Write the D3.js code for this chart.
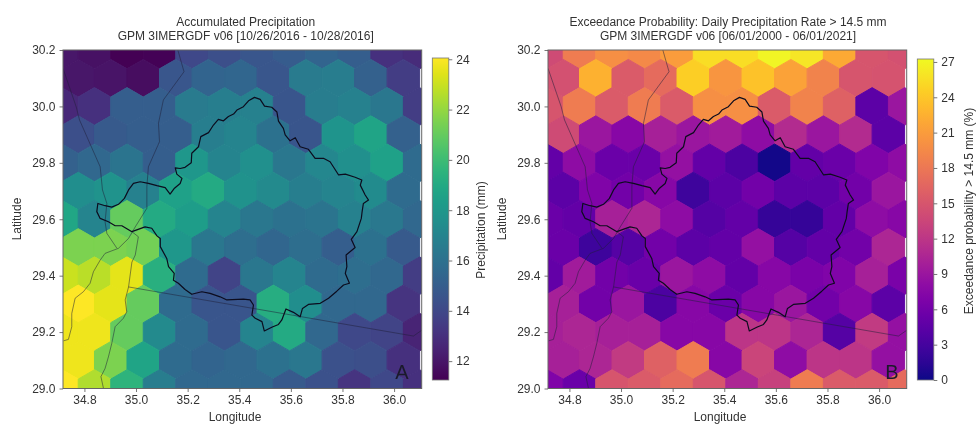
<!DOCTYPE html>
<html>
<head>
<meta charset="utf-8">
<script src="https://cdnjs.cloudflare.com/ajax/libs/d3/7.8.5/d3.min.js"></script>
<style>
  html, body { margin: 0; padding: 0; background: #fff; }
  svg { display: block; filter: blur(0.4px); }
  text { font-family: "Liberation Sans", Arial, sans-serif; fill: #333; }
  .tick line { stroke: #555; stroke-width: 0.8; }
  .tick text { font-size: 12px; fill: #333; }
  .frame { fill: none; stroke: #666; stroke-width: 1; }
  .border { fill: none; stroke: #20203a; stroke-width: 0.6; stroke-opacity: 0.85; }
  .basin { fill: none; stroke: #0c0c1e; stroke-width: 1.2; stroke-linejoin: round; }
</style>
</head>
<body>
<svg id="chart" width="976" height="424"></svg>
<script>
// Hex rows, north to south. Even rows (30.2, 30.0, ...) have 12 cells, the others 11.
var latRows = [30.2, 30.1, 30.0, 29.9, 29.8, 29.7, 29.6, 29.5, 29.4, 29.3, 29.2, 29.1, 29.0];
var lonStartEven = 34.713, lonStartOdd = 34.776, lonStep = 0.126;

// Accumulated precipitation (mm).
var precip = [
  [12.0, 11.8, 11.25, 11.3, 14.0, 14.3, 14.7, 14.9, 15.3, 15.0, 13.0, 12.8],
  [12.0, 11.9, 11.7, 14.7, 15.3, 15.4, 14.7, 16.5, 16.6, 15.2, 13.5],
  [12.7, 13.0, 15.0, 15.0, 16.5, 16.7, 16.8, 14.6, 16.6, 16.8, 16.3, 13.5],
  [14.3, 14.8, 15.0, 15.0, 16.7, 17.0, 16.0, 14.6, 17.9, 18.7, 15.2],
  [15.2, 15.5, 16.2, 15.0, 18.0, 17.0, 17.6, 16.3, 17.2, 17.6, 18.5, 15.7],
  [17.5, 17.8, 16.8, 18.5, 19.0, 17.7, 17.3, 16.7, 17.0, 17.4, 15.7],
  [18.8, 17.0, 21.0, 19.0, 18.3, 17.0, 16.3, 16.0, 16.2, 16.8, 16.4, 15.5],
  [21.5, 21.5, 21.3, 18.0, 16.3, 15.8, 15.4, 15.8, 15.0, 16.0, 14.8],
  [23.0, 22.7, 23.5, 19.3, 15.7, 13.8, 16.3, 17.0, 15.7, 15.8, 15.5, 13.5],
  [24.0, 23.5, 21.0, 15.7, 14.6, 14.6, 19.2, 17.5, 15.5, 15.5, 13.2],
  [23.7, 23.7, 21.0, 17.3, 15.7, 14.6, 17.0, 19.0, 15.5, 14.0, 13.8, 12.5],
  [23.7, 21.5, 18.7, 15.7, 15.3, 15.5, 16.0, 16.3, 14.4, 14.3, 13.0],
  [24.0, 22.5, 19.5, 16.6, 15.5, 15.5, 15.5, 14.8, 14.4, 13.2, 14.0, 13.0]
];

// Exceedance probability (%).
var exceed = [
  [14.0, 18.5, 20.0, 19.5, 21.0, 25.5, 25.5, 27.0, 26.0, 22.0, 15.0, 14.5],
  [14.5, 22.5, 15.5, 17.0, 24.5, 20.5, 23.7, 21.5, 19.0, 15.0, 14.7],
  [15.0, 18.5, 15.5, 18.5, 15.5, 20.0, 20.0, 15.5, 19.0, 16.0, 4.5, 9.0],
  [14.0, 9.0, 7.5, 10.0, 9.0, 9.5, 8.0, 11.0, 9.0, 11.0, 4.5],
  [5.0, 8.0, 5.5, 5.5, 8.5, 5.0, 3.5, 0.3, 5.0, 5.5, 7.0, 8.0],
  [4.5, 7.0, 6.0, 7.5, 2.5, 4.5, 6.0, 4.5, 4.5, 6.0, 9.0],
  [5.5, 5.0, 10.0, 10.5, 8.0, 4.0, 5.0, 2.0, 2.0, 5.0, 8.0, 7.5],
  [5.5, 2.5, 4.0, 6.0, 4.5, 5.0, 8.5, 4.0, 5.0, 6.0, 10.5],
  [5.0, 9.5, 6.0, 5.5, 9.0, 8.0, 5.0, 7.5, 6.5, 7.0, 10.0, 6.5],
  [10.0, 6.0, 9.0, 3.5, 7.5, 5.5, 7.5, 9.0, 6.0, 7.5, 4.5],
  [10.0, 10.5, 10.0, 10.0, 7.5, 7.5, 12.0, 12.0, 10.5, 4.0, 12.5, 8.5],
  [10.0, 10.5, 12.5, 16.0, 18.5, 7.5, 13.5, 8.0, 12.0, 12.0, 8.5],
  [7.0, 5.5, 15.0, 15.5, 17.0, 15.0, 10.5, 13.0, 18.5, 15.5, 15.5, 17.0]
];

// Wadi basin outline, [lon, lat].
var basin = [
  [34.852,29.656],[34.880,29.648],[34.906,29.643],[34.932,29.653],[34.955,29.674],[34.971,29.704],
  [34.990,29.727],[35.016,29.733],[35.048,29.727],[35.081,29.719],[35.113,29.712],[35.132,29.689],
  [35.149,29.710],[35.171,29.727],[35.178,29.745],[35.158,29.760],[35.152,29.782],[35.171,29.780],
  [35.190,29.784],[35.214,29.800],[35.216,29.834],[35.242,29.857],[35.251,29.893],[35.281,29.907],
  [35.300,29.934],[35.319,29.954],[35.339,29.949],[35.358,29.964],[35.378,29.973],[35.391,29.987],
  [35.416,29.999],[35.436,30.020],[35.459,30.032],[35.481,30.025],[35.498,30.001],[35.526,29.997],
  [35.546,29.980],[35.552,29.948],[35.571,29.922],[35.578,29.899],[35.597,29.878],[35.617,29.889],
  [35.636,29.857],[35.668,29.848],[35.694,29.816],[35.726,29.816],[35.752,29.804],[35.785,29.757],
  [35.811,29.760],[35.849,29.749],[35.875,29.739],[35.869,29.721],[35.888,29.686],[35.901,29.668],
  [35.881,29.656],[35.876,29.626],[35.873,29.603],[35.856,29.556],[35.834,29.529],[35.849,29.500],
  [35.814,29.473],[35.817,29.432],[35.811,29.408],[35.827,29.373],[35.804,29.367],[35.778,29.345],
  [35.746,29.320],[35.714,29.302],[35.668,29.298],[35.645,29.284],[35.636,29.254],[35.610,29.270],
  [35.581,29.282],[35.565,29.243],[35.552,29.227],[35.526,29.217],[35.497,29.204],[35.488,29.237],
  [35.462,29.249],[35.449,29.260],[35.455,29.296],[35.442,29.314],[35.416,29.317],[35.352,29.314],
  [35.326,29.325],[35.287,29.337],[35.255,29.343],[35.216,29.334],[35.190,29.351],[35.164,29.373],
  [35.145,29.384],[35.148,29.408],[35.126,29.432],[35.119,29.461],[35.094,29.503],[35.094,29.532],
  [35.081,29.541],[35.061,29.568],[35.035,29.573],[34.984,29.556],[34.945,29.577],[34.919,29.577],
  [34.893,29.591],[34.861,29.603],[34.848,29.627],[34.852,29.656]
];

// Country borders, [lon, lat].
var borderWest = [
  [34.717,30.135],[34.768,29.999],[34.781,29.952],[34.861,29.786],[34.870,29.704],[34.887,29.656],
  [34.880,29.591],[34.887,29.550],[34.926,29.497]
];
var borderNorth = [
  [35.162,30.200],[35.186,30.123],[35.106,30.023],[35.087,29.940],[35.091,29.875],[35.048,29.786],
  [35.042,29.715],[35.042,29.639],[34.997,29.573],[34.971,29.532],[34.932,29.497],[34.880,29.479],
  [34.861,29.455],[34.835,29.414],[34.822,29.373],[34.796,29.343],[34.764,29.320],[34.751,29.266],
  [34.751,29.219],[34.738,29.174],[34.719,29.169]
];
var borderSouth = [
  [34.984,29.556],[35.009,29.538],[34.997,29.473],[34.984,29.448],[34.971,29.360],[34.958,29.314],
  [34.964,29.272],[34.951,29.249],[34.919,29.219],[34.906,29.160],[34.893,29.112],[34.880,29.071],
  [34.864,29.042],[34.874,29.000]
];
var borderEast = [[34.971,29.360],[36.075,29.186],[36.108,29.207]];

var lonTicks = [34.8, 35.0, 35.2, 35.4, 35.6, 35.8, 36.0];
var latTicks = [29.0, 29.2, 29.4, 29.6, 29.8, 30.0, 30.2];
var precipTicks = [12, 14, 16, 18, 20, 22, 24];
var exceedTicks = [0, 3, 6, 9, 12, 15, 18, 21, 24, 27];

var svg = d3.select("#chart");

function panel(opt) {
  var x = d3.scaleLinear().domain([34.717, 36.107]).range([opt.left, opt.left + 358.7]);
  var y = d3.scaleLinear().domain([29.0, 30.2]).range([388.5, 50]);
  var color = d3.scaleSequential(opt.interp).domain(opt.domain);
  var line = d3.line().x(function(d) { return x(d[0]); }).y(function(d) { return y(d[1]); });

  svg.append("clipPath").attr("id", "clip" + opt.id)
    .append("rect")
      .attr("x", opt.left).attr("y", 50)
      .attr("width", 358.7).attr("height", 338.5);

  var plot = svg.append("g").attr("clip-path", "url(#clip" + opt.id + ")");

  // Hex cells
  var halfH = 0.1 / 1.5;
  opt.values.forEach(function(row, r) {
    var lat = latRows[r];
    var start = row.length == 12 ? lonStartEven : lonStartOdd;
    plot.selectAll(".row" + r)
        .data(row)
      .enter().append("path")
        .attr("class", "row" + r)
        .attr("d", function(d, i) {
          var lon = start + i * lonStep;
          return line([
            [lon, lat + halfH], [lon + lonStep / 2, lat + halfH / 2], [lon + lonStep / 2, lat - halfH / 2],
            [lon, lat - halfH], [lon - lonStep / 2, lat - halfH / 2], [lon - lonStep / 2, lat + halfH / 2]
          ]) + "Z";
        })
        .style("fill", function(d) { return color(d); })
        .style("stroke", function(d) { return color(d); })
        .style("stroke-width", 1);
  });

  [borderWest, borderNorth, borderSouth, borderEast].forEach(function(b) {
    plot.append("path").attr("class", "border").attr("d", line(b));
  });
  plot.append("path").attr("class", "basin").attr("d", line(basin) + "Z");

  svg.append("rect").attr("class", "frame")
    .attr("x", opt.left).attr("y", 50)
    .attr("width", 358.7).attr("height", 338.5);

  // Axes
  var xAxis = svg.append("g").attr("transform", "translate(0,388.5)")
    .call(d3.axisBottom(x).tickValues(lonTicks).tickSize(3.5).tickPadding(3).tickFormat(d3.format(".1f")));
  var yAxis = svg.append("g").attr("transform", "translate(" + opt.left + ",0)")
    .call(d3.axisLeft(y).tickValues(latTicks).tickSize(3.5).tickPadding(4).tickFormat(d3.format(".1f")));
  xAxis.select(".domain").remove();
  yAxis.select(".domain").remove();

  svg.append("text")
    .attr("x", opt.left + 172).attr("y", 421)
    .attr("text-anchor", "middle").style("font-size", "12px")
    .text("Longitude");
  svg.append("text")
    .attr("transform", "translate(" + (opt.left - 42) + ",219)rotate(-90)")
    .attr("text-anchor", "middle").style("font-size", "12px")
    .text("Latitude");

  // Titles
  svg.append("text").attr("x", opt.titleX).attr("y", 26)
    .attr("text-anchor", "middle").style("font-size", "12px").text(opt.title[0]);
  svg.append("text").attr("x", opt.titleX).attr("y", 40)
    .attr("text-anchor", "middle").style("font-size", "12px").text(opt.title[1]);

  // Panel letter
  svg.append("text")
    .attr("x", opt.left + opt.letterX).attr("y", 379)
    .attr("text-anchor", "middle")
    .style("font-size", "20px").style("fill", "#1a1a2a")
    .text(opt.id);

  // Colour bar
  var cbX = opt.left + 369.3, cbW = 16.5;
  var cbY = d3.scaleLinear().domain(opt.domain).range(opt.barRange);
  var grad = svg.append("linearGradient").attr("id", "grad" + opt.id)
    .attr("x1", 0).attr("y1", 1).attr("x2", 0).attr("y2", 0);
  d3.range(0, 1.001, 0.05).forEach(function(t) {
    grad.append("stop").attr("offset", t).attr("stop-color", opt.interp(t));
  });
  svg.append("rect")
    .attr("x", cbX).attr("y", opt.barRange[1])
    .attr("width", cbW).attr("height", opt.barRange[0] - opt.barRange[1])
    .style("fill", "url(#grad" + opt.id + ")")
    .style("stroke", "#777").style("stroke-width", 0.8);
  var cbAxis = svg.append("g").attr("transform", "translate(" + (cbX + cbW) + ",0)")
    .call(d3.axisRight(cbY).tickValues(opt.barTicks).tickSize(3.5).tickPadding(4));
  cbAxis.select(".domain").remove();

  svg.append("text")
    .attr("transform", "translate(" + opt.barLabelX + "," + opt.barLabelY + ")rotate(-90)")
    .attr("text-anchor", "middle").style("font-size", "12px")
    .text(opt.barLabel);
}

panel({
  id: "A", left: 63, titleX: 245.7, letterX: 339,
  title: ["Accumulated Precipitation", "GPM 3IMERGDF v06 [10/26/2016 - 10/28/2016]"],
  values: precip, interp: d3.interpolateViridis, domain: [11.25, 24.05],
  barRange: [380, 58], barTicks: precipTicks,
  barLabel: "Precipitation (mm)", barLabelX: 485, barLabelY: 230
});

panel({
  id: "B", left: 548, titleX: 728, letterX: 344,
  title: ["Exceedance Probability: Daily Precipitation Rate > 14.5 mm", "GPM 3IMERGDF v06 [06/01/2000 - 06/01/2021]"],
  values: exceed, interp: d3.interpolatePlasma, domain: [0, 27.25],
  barRange: [380, 59], barTicks: exceedTicks,
  barLabel: "Exceedance probability > 14.5 mm (%)", barLabelX: 972.5, barLabelY: 211
});
</script>
</body>
</html>
